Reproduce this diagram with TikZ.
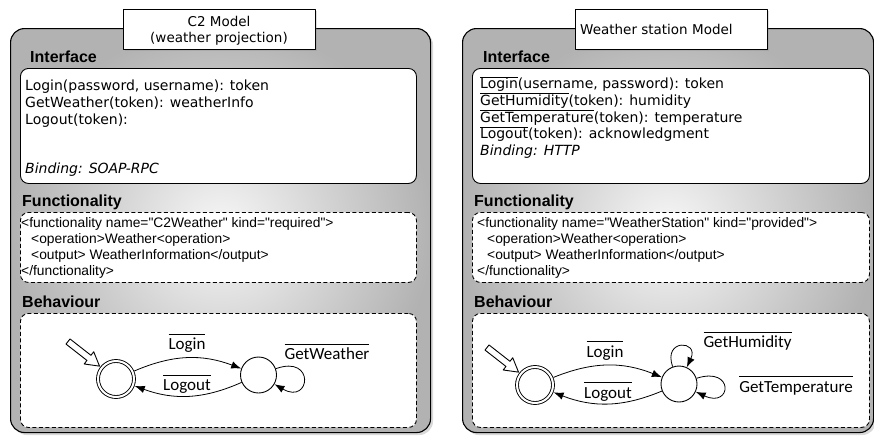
\documentclass[tikz,border=0pt]{standalone}
\usepackage{fontspec}
\setmainfont{DejaVu Sans}
\newfontfamily\arialfont{Liberation Sans}
\newfontfamily\calibrifont{Carlito}
\usetikzlibrary{arrows.meta,shapes.arrows,shadows}

\newcommand{\ovl}[1]{$\overline{\hbox{#1}}$}
\newcommand{\ovlb}[1]{$\overline{\hbox{\rule{0pt}{14.5pt}#1}}$}
\newcommand{\iffont}{\fontsize{14}{16.6}\selectfont\lineskiplimit-20pt\relax}
\newcommand{\fnfont}{\arialfont\fontsize{13.8}{16}\selectfont\lineskiplimit-20pt\relax}

\begin{document}
\begin{tikzpicture}[x=1pt,y=-1pt,join=round, % two models side by side
  panel/.style={draw,line width=1.1pt,rounded corners=14pt,anchor=north west,inner sep=0pt,
    inner color=black!3,outer color=black!30,
    drop shadow={shadow xshift=2.5pt,shadow yshift=-2.5pt,opacity=0.3}},
  titlebox/.style={draw,fill=white,line width=0.9pt,anchor=north west,inner sep=0pt,
    minimum width=192pt,minimum height=40pt,
    drop shadow={shadow xshift=1.5pt,shadow yshift=-1.5pt,opacity=0.25}},
  ttext/.style={inner sep=0pt,align=center,font=\fontsize{13.5}{16.5}\selectfont},
  ifbox/.style={draw,fill=white,line width=0.9pt,rounded corners=8pt,anchor=north west,inner sep=0pt},
  dashbox/.style={ifbox,dash pattern=on 4pt off 2.5pt},
  hd/.style={anchor=base west,inner sep=0pt,font=\arialfont\bfseries\fontsize{16}{19}\selectfont},
  iftext/.style={anchor=north west,inner sep=0pt,align=left,font=\iffont},
  ftext/.style={anchor=north west,inner sep=0pt,align=left,font=\fnfont},
  st/.style={circle,draw,fill=white,line width=0.9pt,minimum size=36pt,inner sep=0pt},
  stinit/.style={st,double,double distance=2pt,outer sep=2pt},
  trans/.style={-{Latex[length=10pt,width=7.5pt]},line width=0.8pt},
  lbl/.style={inner sep=0pt,font=\calibrifont\fontsize{17}{20}\selectfont},
  startarrow/.style={single arrow,draw,fill=white,line width=0.9pt,minimum height=40pt,
    inner sep=2.8pt,single arrow head extend=4.5pt,single arrow tip angle=60,
    rotate=-38,anchor=tip}]
  \useasboundingbox (0,0) rectangle (874,439);

  % C2 side
  \node[panel,minimum width=420pt,minimum height=404pt] (lpanel) at (10,28) {};
  \node[titlebox] (ltitle) at (123,9) {};
  \node[ttext,anchor=north] (ltitletext) at (219,16) {C2 Model\\(weather projection)};

  \node[hd] (lifhd) at (30,62.3) {Interface};
  \node[ifbox,minimum width=396pt,minimum height=115pt] (lif) at (20,68) {};
  \node[iftext] (liftext) at (25,80) {Login(password, username): token\\
    GetWeather(token): weatherInfo\\Logout(token):\\ \\ \\\textit{Binding: SOAP-RPC}};

  \node[hd] (lfnhd) at (22,206.5) {Functionality};
  \node[dashbox,minimum width=396pt,minimum height=70pt] (lfn) at (20,212) {};
  \node[ftext] (lfntext) at (21,217) {<functionality name="C2Weather" kind="required">\\
    \hspace*{10pt}<operation>Weather<operation>\\
    \hspace*{10pt}<output> WeatherInformation</output>\\</functionality>};

  \node[hd] (lbhhd) at (22,307) {Behaviour};
  \node[dashbox,minimum width=396pt,minimum height=114pt] (lbh) at (20,313) {};
  \node[stinit] (ls0) at (116,379) {};
  \node[st] (ls1) at (258.5,375) {};
  \node[startarrow] (lstart) at (ls0.142) {};
  \draw[trans] (ls0) to[bend left=22] (ls1);
  \draw[trans] (ls1) to[bend left=22] (ls0);
  \draw[trans] (ls1) to[out=20,in=-30,min distance=42pt] (ls1);
  \node[lbl] (llogin) at (187,343) {\ovlb{Login}};
  \node[lbl] (llogout) at (187,384) {\ovlb{Logout}};
  \node[lbl] (lgetw) at (327,351.5) {\ovlb{GetWeather}};

  % weather station side
  \node[panel,minimum width=411pt,minimum height=404pt] (rpanel) at (462,28) {};
  \node[titlebox] (rtitle) at (575,9) {};
  \node[ttext,anchor=base west] (rtitletext) at (580,34.5) {Weather station Model};

  \node[hd] (rifhd) at (483,62.3) {Interface};
  \node[ifbox,minimum width=397pt,minimum height=115pt] (rif) at (472,68) {};
  \node[iftext] (riftext) at (480,76) {\ovl{Login}(username, password): token\\
    \ovl{GetHumidity}(token): humidity\\\ovl{GetTemperature}(token): temperature\\
    \ovl{Logout}(token): acknowledgment\\\textit{Binding: HTTP}};

  \node[hd] (rfnhd) at (474,206.5) {Functionality};
  \node[dashbox,minimum width=397pt,minimum height=70pt] (rfn) at (472,212) {};
  \node[ftext] (rfntext) at (477,217) {<functionality name="WeatherStation" kind="provided">\\
    \hspace*{10pt}<operation>Weather<operation>\\
    \hspace*{10pt}<output> WeatherInformation</output>\\</functionality>};

  \node[hd] (rbhhd) at (474,307) {Behaviour};
  \node[dashbox,minimum width=397pt,minimum height=114pt] (rbh) at (472,313) {};
  \node[stinit] (rs0) at (535,385) {};
  \node[st] (rs1) at (679,384) {};
  \node[startarrow] (rstart) at (rs0.142) {};
  \draw[trans] (rs0) to[bend left=22] (rs1);
  \draw[trans] (rs1) to[bend left=22] (rs0);
  \draw[trans] (rs1) to[out=110,in=65,min distance=30pt] (rs1);
  \draw[trans] (rs1) to[out=18,in=-25,min distance=40pt] (rs1);
  \node[lbl] (rlogin) at (605,350.5) {\ovlb{Login}};
  \node[lbl] (rlogout) at (608,391.5) {\ovlb{Logout}};
  \node[lbl] (rgeth) at (747.5,341) {\ovlb{GetHumidity}};
  \node[lbl] (rgett) at (796,385.5) {\ovlb{GetTemperature}};
\end{tikzpicture}
\end{document}
